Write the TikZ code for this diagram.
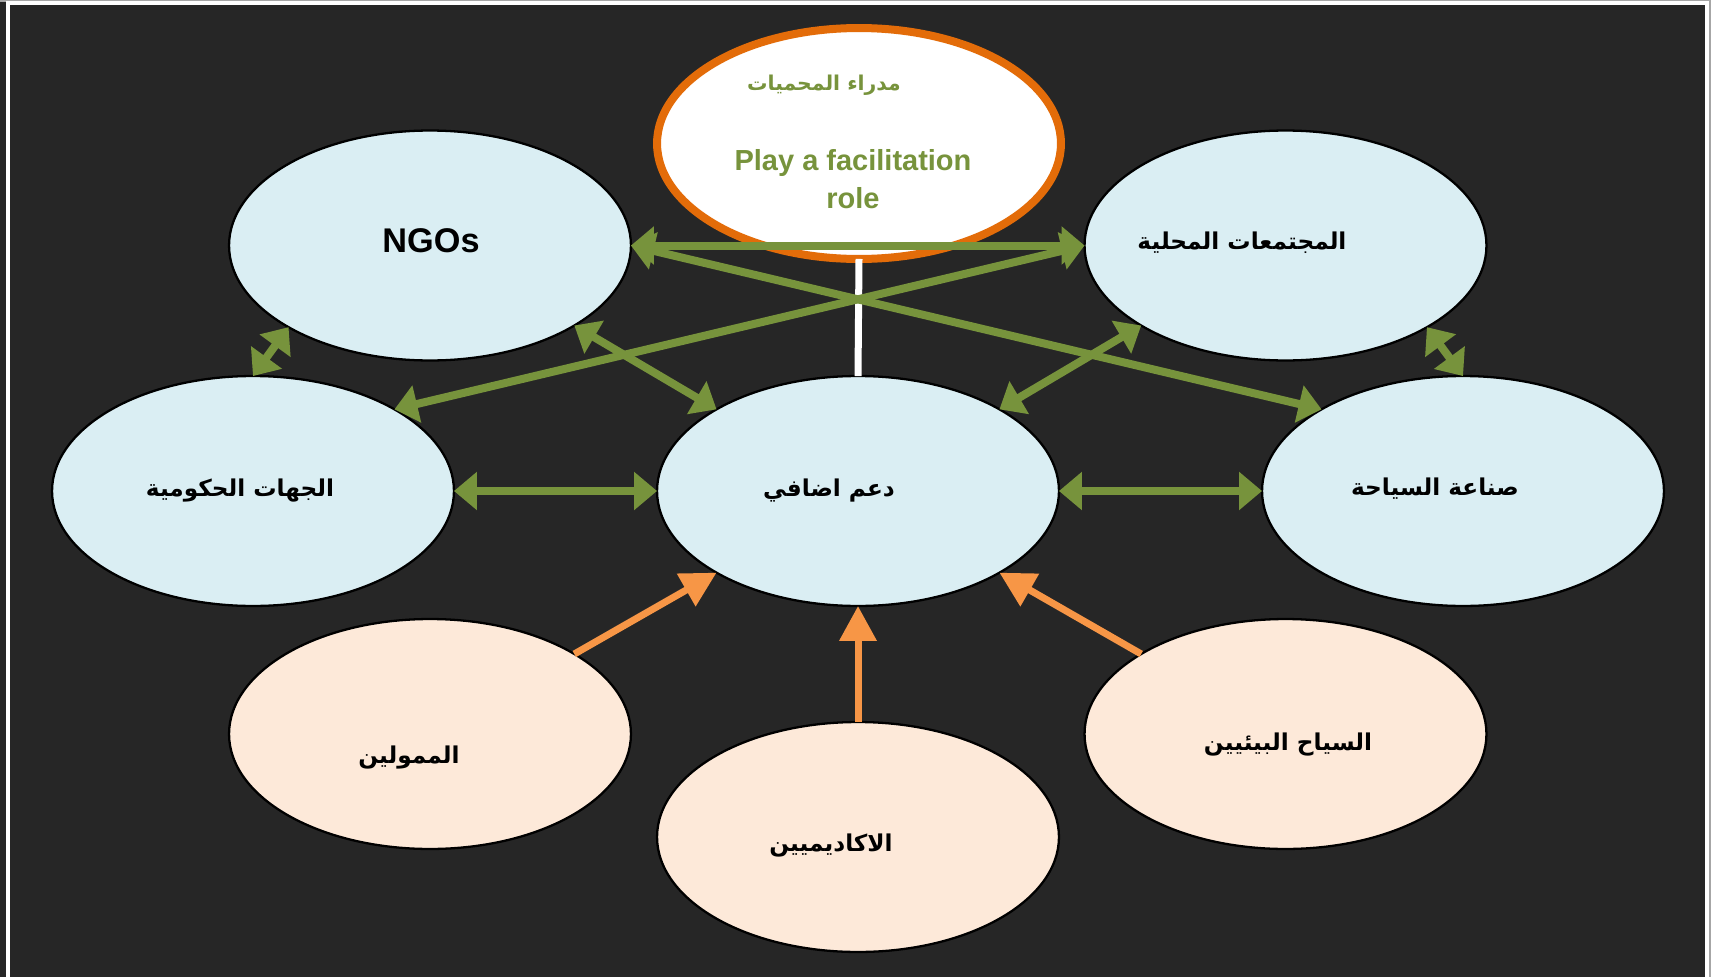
\documentclass[tikz,border=0pt]{standalone}
\usepackage{fontspec}
\setmainfont{Liberation Sans}
\newfontfamily\arabicfont[Script=Arabic]{DejaVu Sans}
\TeXXeTstate=1
\usetikzlibrary{shapes.geometric,arrows.meta}
\definecolor{bg}{HTML}{262626}
\definecolor{lblue}{HTML}{DAEEF3}
\definecolor{peach}{HTML}{FDE9D9}
\definecolor{ggreen}{HTML}{77933C}
\definecolor{dorange}{HTML}{E36C09}
\definecolor{lorange}{HTML}{F79646}
\tikzset{
  ell/.style={ellipse, draw=black, line width=1.3pt, minimum width=8.04cm, minimum height=4.6cm, inner sep=0pt, outer sep=0pt},
  bluebox/.style={ell, fill=lblue},
  peachbox/.style={ell, fill=peach},
  toplbl/.style={ellipse, draw=dorange, fill=white, line width=0.16cm, minimum width=8.08cm, minimum height=4.62cm, inner sep=0pt, outer sep=0pt},
  arlbl/.style={font=\arabicfont\bfseries\fontsize{13.2}{16}\selectfont, text=black, inner sep=0pt},
  enlbl/.style={font=\bfseries\fontsize{19.5}{24}\selectfont, text=black, inner sep=0pt},
  garrow/.style={draw=ggreen, line width=0.16cm, {Triangle[length=0.46cm,width=0.74cm]}-{Triangle[length=0.46cm,width=0.74cm]}},
  oarrow/.style={draw=lorange, line width=0.14cm, -{Triangle[length=0.7cm,width=0.72cm]}},
}
\begin{document}
\begin{tikzpicture}[x=0.02cm,y=-0.02cm]
\fill[bg] (0,0) rectangle (1711,977);
\useasboundingbox (0,0) rectangle (1711,977);
% frame
\draw[color=gray!70, line width=1.5pt] (0,0.8) -- (1711,0.8);
\draw[color=gray!70, line width=1.5pt] (1710.3,0) -- (1710.3,977);
\draw[white, line width=2pt] (8,977) -- (8,3.2) -- (1707,3.2) -- (1707,977);

% ellipses
\node[toplbl] (top) at (859,143.5) {};
\node[bluebox] (ngo) at (430,245.5) {};
\node[bluebox] (comm) at (1285.5,245.5) {};
\node[bluebox] (gov) at (253,491) {};
\node[bluebox] (dem) at (858,491) {};
\node[bluebox] (tour) at (1463,491) {};
\node[peachbox] (fund) at (430,734) {};
\node[peachbox] (acad) at (858,837) {};
\node[peachbox] (eco) at (1285.5,734) {};

% labels
\node[font=\arabicfont\bfseries\fontsize{11.6}{14}\selectfont, text=ggreen, inner sep=0pt] (topA) at (824,85) {\beginR مدراء المحميات\endR};
\node[font=\bfseries\fontsize{16.5}{21.5}\selectfont, text=ggreen, align=center, inner sep=0pt] (topB) at (853,179) {Play a facilitation\\role};
\node[enlbl] (ngoT) at (431,241) {NGOs};
\node[arlbl] (commT) at (1242,243) {\beginR المجتمعات المحلية\endR};
\node[arlbl] (govT) at (240,491) {\beginR الجهات الحكومية\endR};
\node[arlbl] (demT) at (829,491) {\beginR دعم اضافي\endR};
\node[arlbl] (tourT) at (1435,489) {\beginR صناعة السياحة\endR};
\node[arlbl] (fundT) at (409,758) {\beginR الممولين\endR};
\node[arlbl] (acadT) at (831,846) {\beginR الاكاديميين\endR};
\node[arlbl] (ecoT) at (1288,745) {\beginR السياح البيئيين\endR};

% white link
\draw[white, line width=0.14cm] (top.south) -- (dem.north);

% green double arrows
\draw[garrow] (ngo.east) -- (comm.west);
\draw[garrow] (ngo.east) -- (tour.150);
\draw[garrow] (comm.west) -- (gov.30);
\draw[garrow] (ngo.-29) -- (dem.150);
\draw[garrow] (comm.209) -- (dem.30);
\draw[garrow] (ngo.210) -- (gov.north);
\draw[garrow] (comm.-30) -- (tour.north);
\draw[garrow] (gov.east) -- (dem.west);
\draw[garrow] (dem.east) -- (tour.west);

% orange arrows
\draw[oarrow] (fund.29) -- (dem.210);
\draw[oarrow] (acad.north) -- (dem.south);
\draw[oarrow] (eco.151) -- (dem.-30);
\end{tikzpicture}
\end{document}
